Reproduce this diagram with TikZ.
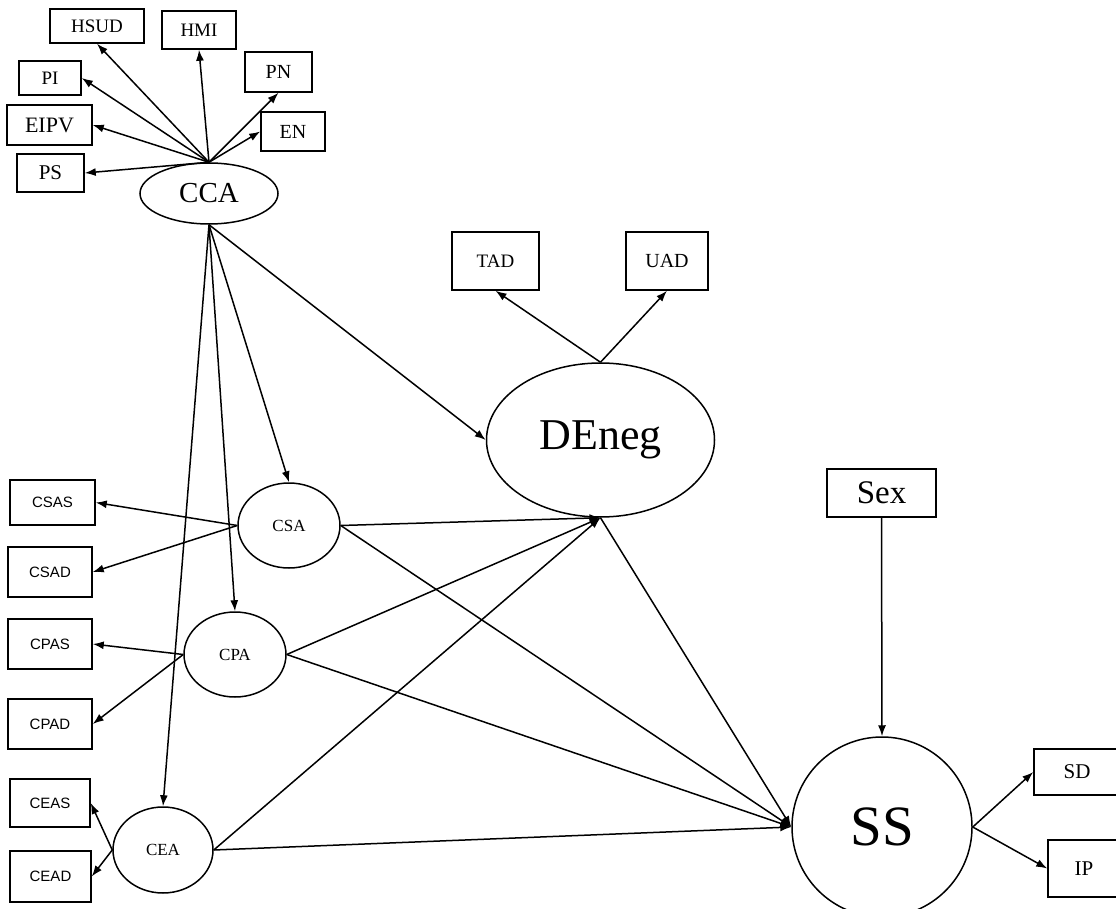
\documentclass[tikz,border=0pt]{standalone}
\usepackage{fontspec}
\setmainfont{Liberation Serif}
\newfontfamily\arial{Liberation Sans}
\usetikzlibrary{shapes.geometric,arrows.meta}

\tikzset{
  obs/.style={draw, line width=1.5pt, rectangle, inner sep=0pt, minimum width=#1},
  lat/.style={draw, line width=1.5pt, ellipse, inner sep=0pt},
  path/.style={line width=1.5pt, -{Latex[length=11pt,width=8pt]}},
  fs/.style={font=\fontsize{#1}{#1}\selectfont},
  sfs/.style={font=\arial\fontsize{#1}{#1}\selectfont}
}

\begin{document}
\begin{tikzpicture}[x=1pt, y=-1pt]
\useasboundingbox (0,0) rectangle (1116,909);
\fill[white] (0,0) rectangle (1116,909);

% indicators of CCA
\node[obs=94, minimum height=34, fs=19] (HSUD) at (97,26) {HSUD};
\node[obs=74, minimum height=38, fs=19] (HMI) at (199,30) {HMI};
\node[obs=62, minimum height=34, fs=19] (PI) at (50,78) {PI};
\node[obs=67, minimum height=40, fs=20] (PN) at (278.5,72) {PN};
\node[obs=85, minimum height=40, fs=22] (EIPV) at (49.5,125) {EIPV};
\node[obs=64, minimum height=39, fs=20] (EN) at (293,131.5) {EN};
\node[obs=67, minimum height=38, fs=21] (PS) at (50.5,173) {PS};

% latent variables
\node[lat, minimum width=138, minimum height=61, fs=29] (CCA) at (209,193.5) {CCA};
\node[lat, minimum width=228, minimum height=154, fs=44] (DEneg) at (600.5,440) {DEneg};
\node[lat, minimum width=102, minimum height=85, fs=17] (CSA) at (289,525.5) {CSA};
\node[lat, minimum width=102, minimum height=85, fs=17] (CPA) at (235,654.5) {CPA};
\node[lat, minimum width=100, minimum height=86, fs=17] (CEA) at (163,850) {CEA};
\node[draw, line width=1.5pt, circle, inner sep=0pt, minimum size=180, fs=57] (SS) at (882,827) {SS};

% indicators of DEneg
\node[obs=87, minimum height=58, fs=19] (TAD) at (495.5,261) {TAD};
\node[obs=82, minimum height=58, fs=20] (UAD) at (667,261) {UAD};

% indicators of CSA, CPA, CEA
\node[obs=85, minimum height=45, sfs=15] (CSAS) at (52.5,502.5) {CSAS};
\node[obs=84, minimum height=50, sfs=15] (CSAD) at (50,572) {CSAD};
\node[obs=84, minimum height=50, sfs=15] (CPAS) at (50,644) {CPAS};
\node[obs=84, minimum height=50, sfs=15] (CPAD) at (50,724) {CPAD};
\node[obs=80, minimum height=48, sfs=15] (CEAS) at (50,803) {CEAS};
\node[obs=81, minimum height=51, sfs=15] (CEAD) at (50.5,876.5) {CEAD};

% covariate and outcome indicators
\node[obs=109, minimum height=48, fs=33] (Sex) at (881.5,493) {Sex};
\node[obs=86, minimum height=46, fs=21] (SD) at (1077,772) {SD};
\node[obs=72, minimum height=57, fs=21] (IP) at (1084,868.5) {IP};

% measurement paths
\foreach \t/\a in {HSUD/south, HMI/south, PI/east, PN/south, EIPV/east, EN/west, PS/east}
  \draw[path] (CCA.north) -- (\t.\a);
\draw[path] (DEneg.north) -- (TAD.south);
\draw[path] (DEneg.north) -- (UAD.south);
\draw[path] (CSA.west) -- (CSAS.east);
\draw[path] (CSA.west) -- (CSAD.east);
\draw[path] (CPA.west) -- (CPAS.east);
\draw[path] (CPA.west) -- (CPAD.east);
\draw[path] (CEA.west) -- (CEAS.east);
\draw[path] (CEA.west) -- (CEAD.east);
\draw[path] (SS.east) -- (SD.west);
\draw[path] (SS.east) -- (IP.west);

% structural paths
\draw[path] (CCA.south) -- (CSA.north);
\draw[path] (CCA.south) -- (CPA.north);
\draw[path] (CCA.south) -- (CEA.north);
\draw[path] (CCA.south) -- (DEneg.west);
\foreach \s in {CSA, CPA, CEA} {
  \draw[path] (\s.east) -- (DEneg.south);
  \draw[path] (\s.east) -- (SS.west);
}
\draw[path] (DEneg.south) -- (SS.west);
\draw[path] (Sex.south) -- (SS.north);
\end{tikzpicture}
\end{document}
